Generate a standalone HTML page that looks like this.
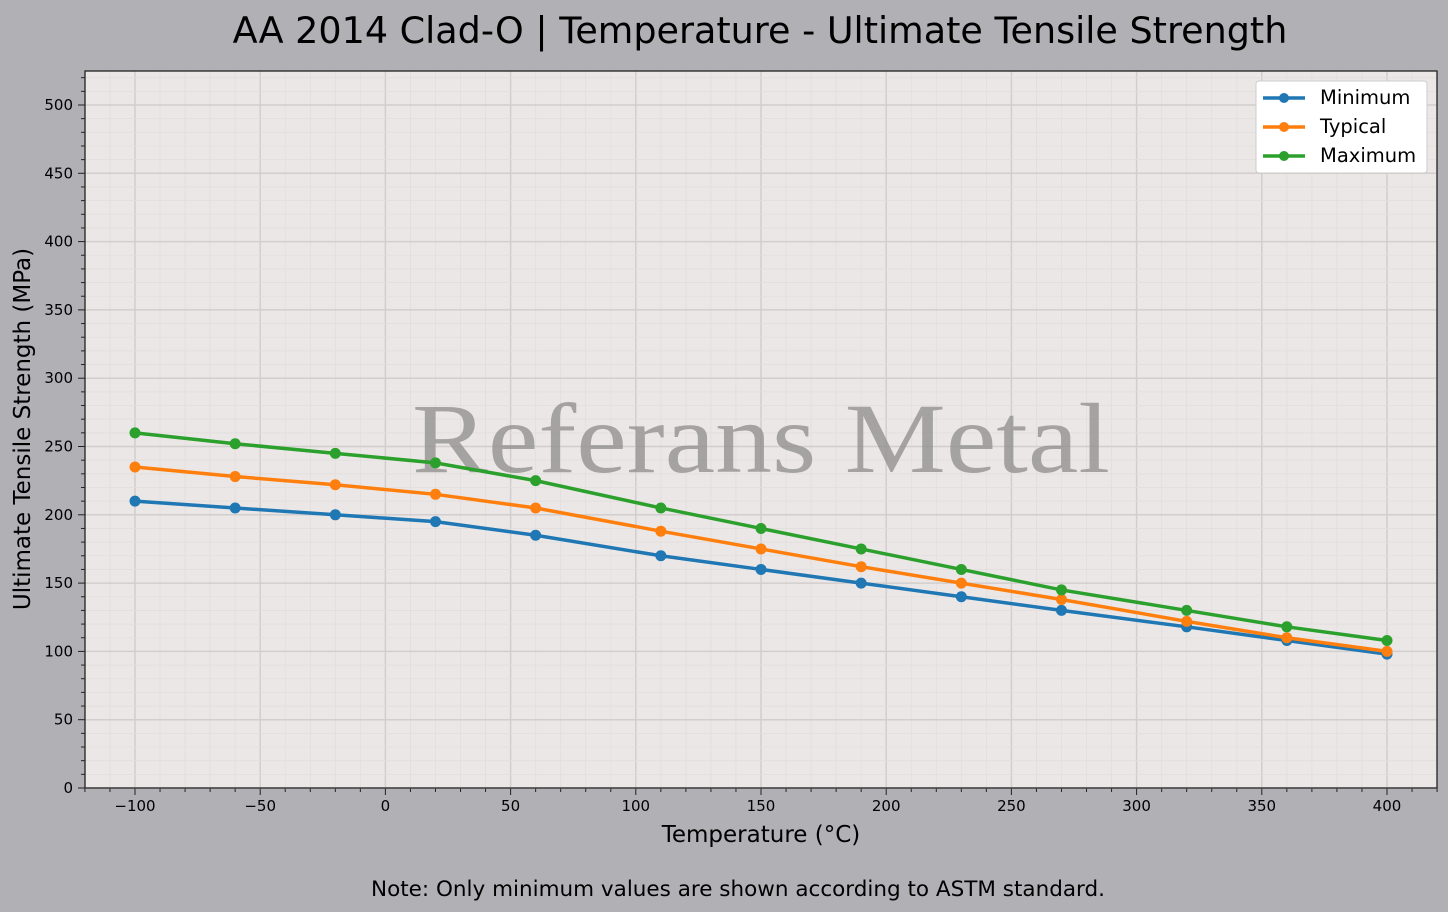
<!DOCTYPE html>
<html><head><meta charset="utf-8"><style>
html,body{margin:0;padding:0;background:#b1b0b5;}
svg{display:block;font-family:"DejaVu Sans","Liberation Sans",sans-serif;}
</style></head><body>
<svg id="s" width="1448" height="912" viewBox="0 0 1448 912" xmlns="http://www.w3.org/2000/svg">
<rect width="1448" height="912" fill="#b1b0b5"/>
<rect x="85" y="71" width="1352" height="717" fill="#ebe7e6"/>
<g id="grid"></g>
<text x="412" y="472" font-family="Liberation Serif,serif" font-size="100" fill="#8e8c8a" fill-opacity="0.75" textLength="698" lengthAdjust="spacingAndGlyphs">Referans Metal</text>
<g id="data"></g>
<rect x="85" y="71" width="1352" height="717" fill="none" stroke="#222" stroke-width="1.3"/>
<g font-size="15" fill="#000" text-anchor="middle">
<text x="135" y="811">−100</text><text x="260.2" y="811">−50</text><text x="385.4" y="811">0</text>
<text x="510.6" y="811">50</text><text x="635.8" y="811">100</text><text x="761" y="811">150</text>
<text x="886.2" y="811">200</text><text x="1011.4" y="811">250</text><text x="1136.6" y="811">300</text>
<text x="1261.8" y="811">350</text><text x="1387" y="811">400</text>
</g>
<g font-size="15" fill="#000" text-anchor="end">
<text x="73" y="793">0</text><text x="73" y="724.7">50</text><text x="73" y="656.4">100</text>
<text x="73" y="588.1">150</text><text x="73" y="519.8">200</text><text x="73" y="451.5">250</text>
<text x="73" y="383.2">300</text><text x="73" y="314.9">350</text><text x="73" y="246.6">400</text>
<text x="73" y="178.3">450</text><text x="73" y="110">500</text>
</g>
<text x="761" y="842" font-size="23" text-anchor="middle">Temperature (°C)</text>
<text transform="translate(30,429) rotate(-90)" font-size="23" text-anchor="middle">Ultimate Tensile Strength (MPa)</text>
<text x="760" y="43" font-size="36.5" text-anchor="middle">AA 2014 Clad-O | Temperature - Ultimate Tensile Strength</text>
<text x="738" y="896" font-size="21.5" text-anchor="middle">Note: Only minimum values are shown according to ASTM standard.</text>
<g>
<rect x="1256" y="81" width="171" height="92" rx="3" fill="#fff" stroke="#ccc"/>
<line x1="1263" y1="98" x2="1305" y2="98" stroke="#1f77b4" stroke-width="3.5"/><circle cx="1284" cy="98" r="5" fill="#1f77b4"/>
<line x1="1263" y1="127" x2="1305" y2="127" stroke="#ff7f0e" stroke-width="3.5"/><circle cx="1284" cy="127" r="5" fill="#ff7f0e"/>
<line x1="1263" y1="156" x2="1305" y2="156" stroke="#2ca02c" stroke-width="3.5"/><circle cx="1284" cy="156" r="5" fill="#2ca02c"/>
<text x="1320" y="104" font-size="19.5">Minimum</text>
<text x="1320" y="133" font-size="19.5">Typical</text>
<text x="1320" y="162" font-size="19.5">Maximum</text>
</g>
</svg>
<script>
var NS="http://www.w3.org/2000/svg";
function X(v){return 135+(v+100)*2.504;}
function Y(v){return 788-v*1.366;}
function el(p,t,a){var e=document.createElementNS(NS,t);for(var k in a)e.setAttribute(k,a[k]);p.appendChild(e);return e;}
var g=document.getElementById('grid');
for(var v=-120;v<=420;v+=10){var x=X(v);var maj=(v%50===0);
 el(g,'line',{x1:x,x2:x,y1:71,y2:788,stroke:maj?'#d2cecd':'#e2dedd','stroke-width':maj?1.5:0.8});
 el(g,'line',{x1:x,x2:x,y1:788,y2:maj?795:792,stroke:'#222','stroke-width':1});}
for(var v=0;v<=520;v+=10){var y=Y(v);var maj=(v%50===0);
 el(g,'line',{x1:85,x2:1437,y1:y,y2:y,stroke:maj?'#d2cecd':'#e2dedd','stroke-width':maj?1.5:0.8});
 el(g,'line',{x1:85,x2:maj?78:81,y1:y,y2:y,stroke:'#222','stroke-width':1});}
var T=[-100,-60,-20,20,60,110,150,190,230,270,320,360,400];
var S=[["#1f77b4",[210,205,200,195,185,170,160,150,140,130,118,108,98]],
["#ff7f0e",[235,228,222,215,205,188,175,162,150,138,122,110,100]],
["#2ca02c",[260,252,245,238,225,205,190,175,160,145,130,118,108]]];
var d=document.getElementById('data');
S.forEach(function(s){var pts=T.map(function(t,i){return X(t)+','+Y(s[1][i]);}).join(' ');
 el(d,'polyline',{points:pts,fill:'none',stroke:s[0],'stroke-width':3.5});
 T.forEach(function(t,i){el(d,'circle',{cx:X(t),cy:Y(s[1][i]),r:5.5,fill:s[0]});});});
</script>
</body></html>
